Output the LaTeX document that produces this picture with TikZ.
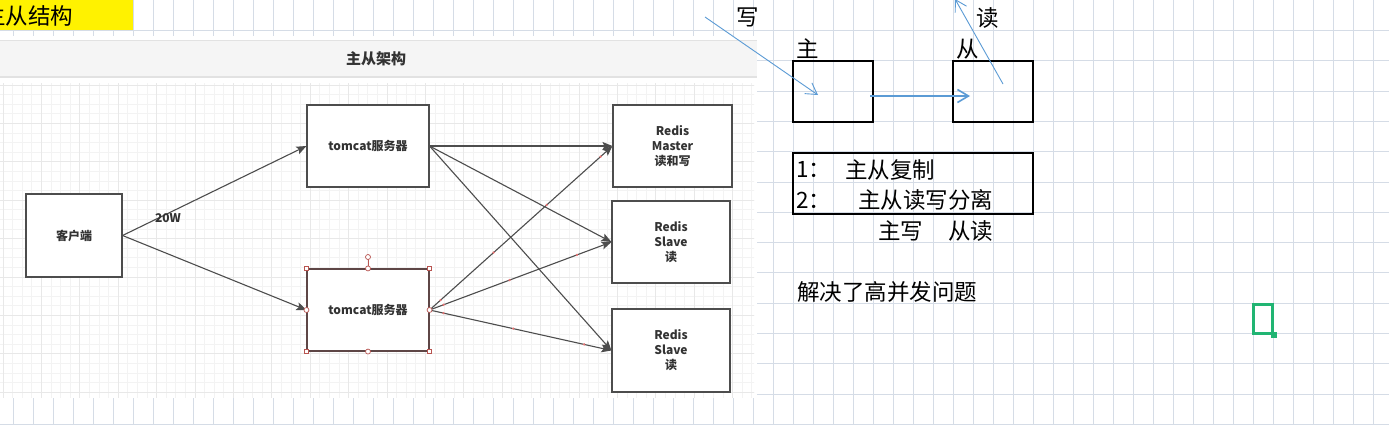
\documentclass[tikz,border=0pt]{standalone}
\usepackage{fontspec}
\setmainfont{Noto Sans CJK SC}
\newfontfamily\cjk{Noto Sans CJK SC}
\usetikzlibrary{arrows.meta}
\definecolor{xlgrid}{HTML}{D5DCE6}
\definecolor{dgrid}{HTML}{F3F3F3}
\definecolor{dgridmaj}{HTML}{E8E8E8}
\definecolor{hdr}{HTML}{F5F5F5}
\definecolor{hdrline}{HTML}{E2E2E2}
\definecolor{edgec}{HTML}{4D4D4D}
\definecolor{txtc}{HTML}{333333}
\definecolor{xlblue}{HTML}{5B9BD5}
\definecolor{selc}{HTML}{B85450}
\definecolor{selbox}{HTML}{5E4646}
\definecolor{xlgreen}{HTML}{21B573}
\definecolor{dotred}{HTML}{E57373}
\begin{document}
\begin{tikzpicture}[x=1pt,y=-1pt,
  dbox/.style={draw=edgec, line width=1.1pt, fill=white, rectangle, inner sep=0pt,
    font=\cjk\fontsize{12}{15}\selectfont\bfseries, text=txtc, align=center},
  darr/.style={draw=edgec, line width=1.1pt, -{Stealth[length=10pt,width=8pt,inset=2pt]}},
  xbox/.style={draw=black, line width=2pt, rectangle, inner sep=0pt},
  xtext/.style={font=\cjk\fontsize{22.5}{25}\selectfont, text=black, inner sep=0pt},
  barr/.style={draw=xlblue, line width=0.9pt, -{Straight Barb[length=11pt,width=13pt]}},
  reddot/.style={circle, fill=dotred, inner sep=0pt, minimum size=2.6pt},
  handsq/.style={draw=selc, fill=white, line width=0.7pt, rectangle, inner sep=0pt, minimum size=4.5pt},
  handci/.style={draw=selc, fill=white, line width=0.7pt, circle, inner sep=0pt, minimum size=5pt}
]
\clip (0,0) rectangle (1389,424);
\fill[white] (0,0) rectangle (1389,424);
% spreadsheet grid
\foreach \i in {0,...,68} \draw[xlgrid, line width=1pt] ({13.33+20*\i},0) -- ({13.33+20*\i},424);
\foreach \j in {0,...,13} \draw[xlgrid, line width=1pt] (0,{30.5+30.3*\j}) -- (1389,{30.5+30.3*\j});
% yellow title cell
\fill[yellow] (0,0) rectangle (133,30);
\node[xtext, anchor=west] (title) at (-17,16) {主从结构};
% embedded image
\fill[white] (0,36) rectangle (757,398);
\fill[hdr] (0,40) rectangle (757,77);
\draw[hdrline, line width=1pt] (0,40) -- (757,40);
\draw[hdrline, line width=1.5pt] (0,77) -- (757,77);
\node[font=\cjk\fontsize{15}{18}\selectfont\bfseries, text=txtc] (hdrtxt) at (376,59) {主从架构};
\begin{scope}
  \clip (0,83) rectangle (754,398);
  \foreach \i in {0,...,80} \draw[dgrid, line width=0.8pt] ({3+9.6*\i},83) -- ({3+9.6*\i},398);
  \foreach \j in {0,...,33} \draw[dgrid, line width=0.8pt] (0,{85+9.6*\j}) -- (757,{85+9.6*\j});
  \foreach \i in {0,...,20} \draw[dgridmaj, line width=0.8pt] ({3+38.4*\i},83) -- ({3+38.4*\i},398);
  \foreach \j in {0,...,8} \draw[dgridmaj, line width=0.8pt] (0,{85+38.4*\j}) -- (757,{85+38.4*\j});
\end{scope}
% diagram nodes
\node[dbox, minimum width=96pt, minimum height=83pt] (client) at (74,235.5) {客户端};
\node[dbox, minimum width=122pt, minimum height=82pt] (tomcat1) at (368,146) {tomcat服务器};
\node[dbox, draw=selbox, minimum width=122pt, minimum height=82pt] (tomcat2) at (368,310) {tomcat服务器};
\node[dbox, minimum width=119pt, minimum height=82pt] (master) at (672.5,146) {Redis\\Master\\读和写};
\node[dbox, minimum width=118pt, minimum height=82pt] (slave1) at (671,242) {Redis\\Slave\\读};
\node[dbox, minimum width=118pt, minimum height=83pt] (slave2) at (671,350.5) {Redis\\Slave\\读};
% diagram connectors
\draw[darr] (client.east) -- (tomcat1.west);
\draw[darr] (client.east) -- (tomcat2.west);
\node[font=\cjk\fontsize{12}{14}\selectfont\bfseries, text=txtc, inner sep=0pt] (w20) at (168,218) {20W};
\draw[darr] (tomcat1.east) -- (master.west);
\draw[darr] (tomcat1.east) -- (slave1.west);
\draw[darr] (tomcat1.east) -- (slave2.west);
\draw[darr] (tomcat2.east) -- (master.west)
  node[reddot, pos=0.06] {} node[reddot, pos=0.35] {} node[reddot, pos=0.64] {} node[reddot, pos=0.935] {};
\draw[darr] (tomcat2.east) -- (slave1.west)
  node[reddot, pos=0.077] {} node[reddot, pos=0.44] {} node[reddot, pos=0.81] {};
\draw[darr] (tomcat2.east) -- (slave2.west)
  node[reddot, pos=0.077] {} node[reddot, pos=0.46] {} node[reddot, pos=0.85] {};
% selection handles
\coordinate (rot) at (368,257);
\draw[selc, line width=0.7pt] (rot) -- (tomcat2.north);
\node[handci] (hrot) at (rot) {};
\node[handsq] (hnw) at (tomcat2.north west) {};
\node[handsq] (hne) at (tomcat2.north east) {};
\node[handsq] (hsw) at (tomcat2.south west) {};
\node[handsq] (hse) at (tomcat2.south east) {};
\node[handci] (hn) at (tomcat2.north) {};
\node[handci] (hs) at (tomcat2.south) {};
\node[handci] (hw) at (tomcat2.west) {};
\node[handci] (he) at (tomcat2.east) {};
% right side spreadsheet drawing
\node[xtext] (xie) at (748,17) {写};
\node[xtext] (du) at (988,18) {读};
\node[xtext] (zhu) at (808,49) {主};
\node[xtext] (cong) at (968,49) {从};
\node[xbox, minimum width=80pt, minimum height=61pt] (mbox) at (833,91.5) {};
\node[xbox, minimum width=80pt, minimum height=61pt] (sbox) at (993,91.5) {};
\coordinate (wa) at (705,17);
\coordinate (wb) at (818,95);
\coordinate (ma) at (870,96);
\coordinate (mb) at (970,96);
\coordinate (ra) at (1003,84);
\coordinate (rb) at (955,-1);
\draw[barr] (wa) -- (wb);
\draw[barr, line width=1.6pt] (ma) -- (mb);
\draw[barr] (ra) -- (rb);
\node[xbox, minimum width=240pt, minimum height=61pt] (list) at (913,183.5) {};
\node[xtext, anchor=west] (n1) at (796,170) {1：};
\node[xtext, anchor=west] (t1) at (845,170) {主从复制};
\node[xtext, anchor=west] (n2) at (796,200) {2：};
\node[xtext, anchor=west] (t2) at (858,200) {主从读写分离};
\node[xtext, anchor=west] (zx) at (878,231) {主写};
\node[xtext, anchor=west] (cd) at (948,231) {从读};
\node[xtext, anchor=west] (jj) at (797,292) {解决了高并发问题};
% active cell cursor
\draw[xlgreen, line width=2.7pt] (1253.4,304.4) rectangle (1272.7,333.7);
\fill[xlgreen] (1270.5,331.5) rectangle (1276.5,337.5);
\end{tikzpicture}
\end{document}
